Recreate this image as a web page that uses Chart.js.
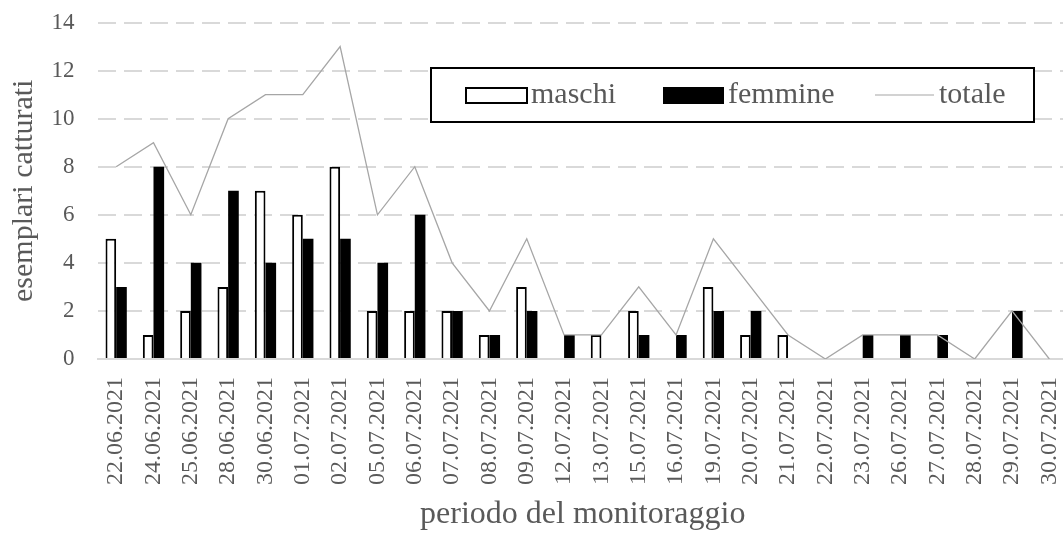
<!DOCTYPE html>
<html>
<head>
<meta charset="utf-8">
<script src="https://cdn.jsdelivr.net/npm/chart.js@4.4.0/dist/chart.umd.min.js"></script>
<style>
  html, body { margin: 0; padding: 0; background: #fff; overflow: hidden; }
  #wrap { position: relative; width: 1068px; height: 534px; }
</style>
</head>
<body>
<div id="wrap"><canvas id="c" width="1068" height="534"></canvas></div>
<script>
const categories = ["22.06.2021","24.06.2021","25.06.2021","28.06.2021","30.06.2021","01.07.2021","02.07.2021","05.07.2021","06.07.2021","07.07.2021","08.07.2021","09.07.2021","12.07.2021","13.07.2021","15.07.2021","16.07.2021","19.07.2021","20.07.2021","21.07.2021","22.07.2021","23.07.2021","26.07.2021","27.07.2021","28.07.2021","29.07.2021","30.07.2021"];
const maschi  = [5,1,2,3,7,6,8,2,2,2,1,3,0,1,2,0,3,1,1,0,0,0,0,0,0,0];
const femmine = [3,8,4,7,4,5,5,4,6,2,1,2,1,0,1,1,2,2,0,0,1,1,1,0,2,0];
const totale  = [8,9,6,10,11,11,13,6,8,4,2,5,1,1,3,1,5,3,1,0,1,1,1,0,2,0];
const yTicks = [0,2,4,6,8,10,12,14];
const seriesLabels = ["maschi","femmine","totale"];
const yTitle = "esemplari catturati";
const xTitle = "periodo del monitoraggio";

const FONT = "'Liberation Serif', 'Times New Roman', serif";
const TXT = "#595959";

const boxLegend = {
  id: 'boxLegend',
  afterDraw(chart) {
    const ctx = chart.ctx;
    const ds = chart.data.datasets;
    ctx.save();
    ctx.fillStyle = '#fff';
    ctx.fillRect(431, 68, 603, 54);
    ctx.strokeStyle = '#000';
    ctx.lineWidth = 2;
    ctx.strokeRect(431, 68, 603, 54);
    const cy = 95;
    ctx.font = "30px " + FONT;
    ctx.textBaseline = 'middle';
    ctx.textAlign = 'left';
    // maschi
    ctx.fillStyle = '#fff';
    ctx.fillRect(466, 88, 61, 15);
    ctx.strokeStyle = '#000';
    ctx.lineWidth = 2;
    ctx.strokeRect(466, 88, 61, 15);
    ctx.fillStyle = TXT;
    ctx.fillText(ds[0].label, 531, cy);
    // femmine
    ctx.fillStyle = '#000';
    ctx.fillRect(663, 87, 61, 17);
    ctx.fillStyle = TXT;
    ctx.fillText(ds[1].label, 728, cy);
    // totale
    ctx.strokeStyle = '#a6a6a6';
    ctx.lineWidth = 1.2;
    ctx.beginPath();
    ctx.moveTo(875, cy);
    ctx.lineTo(934, cy);
    ctx.stroke();
    ctx.fillText(ds[2].label, 939, cy);
    ctx.restore();
  }
};

new Chart(document.getElementById('c'), {
  data: {
    labels: categories,
    datasets: [
      { type: 'bar', label: seriesLabels[0], data: maschi, backgroundColor: '#ffffff', borderColor: '#000000', borderWidth: 2, borderSkipped: 'bottom', barPercentage: 1, categoryPercentage: 0.57, order: 2 },
      { type: 'bar', label: seriesLabels[1], data: femmine, backgroundColor: '#000000', borderColor: '#000000', borderWidth: 0, barPercentage: 1, categoryPercentage: 0.57, order: 2 },
      { type: 'line', label: seriesLabels[2], data: totale, borderColor: '#a6a6a6', borderWidth: 1.3, pointRadius: 0, tension: 0, fill: false, order: 0 }
    ]
  },
  options: {
    responsive: false,
    animation: false,
    devicePixelRatio: 1,
    layout: { padding: { left: 0, right: 0, top: 22.5, bottom: 0 } },
    plugins: {
      legend: { display: false },
      tooltip: { enabled: false }
    },
    scales: {
      x: {
        grid: { display: false, drawTicks: false },
        border: { display: true, color: '#d9d9d9', width: 2 },
        ticks: {
          color: TXT, font: { family: FONT, size: 24 },
          maxRotation: 90, minRotation: 90, padding: 18, autoSkip: false
        },
        title: { display: true, text: xTitle, color: TXT, font: { family: FONT, size: 32 }, padding: { top: 0, bottom: 0 } },
        afterFit(scale) { scale.height = 175; scale.paddingLeft = 0; scale.paddingRight = 0; }
      },
      y: {
        min: 0, max: 14,
        afterBuildTicks(scale) { scale.ticks = yTicks.map(v => ({ value: v })); },
        grid: {
          drawTicks: false,
          color: (c) => c.tick && c.tick.value === 0 ? 'rgba(0,0,0,0)' : '#d9d9d9',
          lineWidth: 2
        },
        border: { display: false, dash: [18, 8] },
        ticks: { color: TXT, font: { family: FONT, size: 23 }, padding: 23 },
        title: { display: true, text: yTitle, color: TXT, font: { family: FONT, size: 30 }, padding: { top: 6, bottom: 0 } },
        afterFit(scale) { scale.width = 97.5; scale.paddingTop = 0; scale.paddingBottom = 0; }
      }
    }
  },
  plugins: [boxLegend]
});
</script>
</body>
</html>
